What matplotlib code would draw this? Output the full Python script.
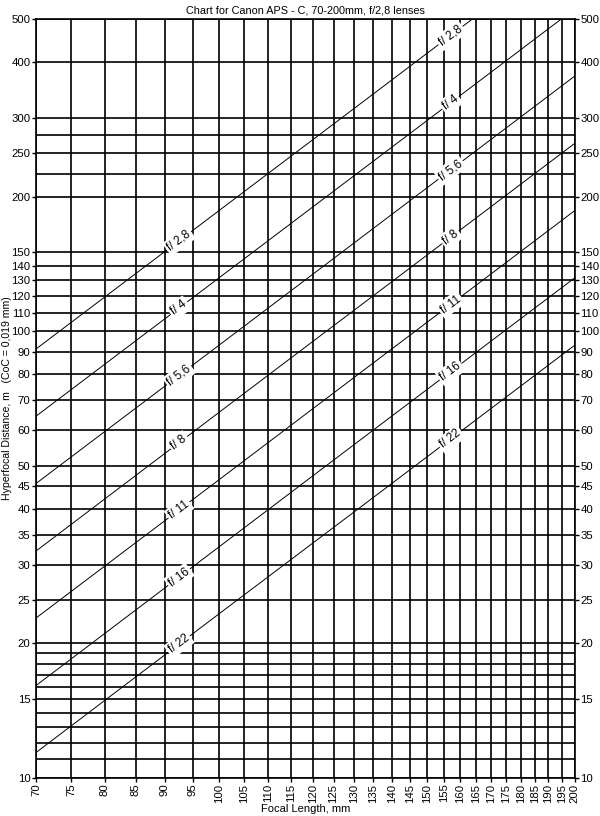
import numpy as np
import matplotlib.pyplot as plt

plt.rcParams['font.family'] = ['Liberation Sans', 'DejaVu Sans']
plt.rcParams['font.size'] = 8.2

# focal lengths (mm) and hyperfocal distances (m)
focal = [70, 100, 135, 200]
apertures = ['2,8', '4', '5,6', '8', '11', '16', '22']
h_28 = [91.2, 186.1, 339.1, 744.3]
h_4 = [64.5, 131.6, 239.8, 526.3]
h_56 = [45.6, 93.0, 169.6, 372.2]
h_8 = [32.2, 65.8, 119.9, 263.2]
h_11 = [22.8, 46.5, 84.8, 186.1]
h_16 = [16.1, 32.9, 60.0, 131.6]
h_22 = [11.4, 23.3, 42.4, 93.0]
hyper = [h_28, h_4, h_56, h_8, h_11, h_16, h_22]

x_ticks = list(range(70, 201, 5))
y_ticks = [10, 15, 20, 25, 30, 35, 40, 45, 50, 60, 70, 80, 90, 100, 110, 120,
           130, 140, 150, 200, 250, 300, 400, 500]
y_minor = [11, 12, 13, 14, 16, 17, 18, 19, 225, 275]
label_pos = [92.5, 157]

fig = plt.figure(figsize=(6, 8.16), dpi=100)
fig.subplots_adjust(left=0.06, right=0.958, bottom=0.0466, top=0.977)
ax = fig.add_subplot(111)
ax.set_xscale('log')
ax.set_yscale('log')
ax.set_xlim(70, 200)
ax.set_ylim(10, 500)

ax.set_xticks(x_ticks)
ax.set_xticklabels([str(x) for x in x_ticks], rotation=90)
ax.set_xticks([], minor=True)
ax.set_yticks(y_ticks)
ax.set_yticklabels([str(y) for y in y_ticks])
ax.set_yticks(y_minor, minor=True)
ax.set_yticklabels([], minor=True)
ax.tick_params(which='both', direction='out', length=3, width=1, pad=1,
               right=True, labelright=True)
ax.tick_params(which='minor', length=0)
ax.grid(True, which='both', color='black', linewidth=1.2)
for s in ax.spines.values():
    s.set_linewidth(1.2)

for vals, ap in zip(hyper, apertures):
    ax.plot(focal, vals, color='black', linewidth=0.7, zorder=3)
    lf = np.log10(focal)
    lv = np.log10(vals)
    p0 = ax.transData.transform((focal[0], vals[0]))
    p1 = ax.transData.transform((focal[-1], vals[-1]))
    ang = np.degrees(np.arctan2(p1[1] - p0[1], p1[0] - p0[0]))
    for fx in label_pos:
        fy = 10 ** np.interp(np.log10(fx), lf, lv)
        ax.text(fx, fy, 'f/ ' + ap, rotation=ang, rotation_mode='anchor',
                ha='center', va='center', fontsize=8.5, zorder=4,
                bbox=dict(facecolor='white', edgecolor='none', pad=1.5))

ax.set_title('Chart for Canon APS - C, 70-200mm, f/2,8 lenses', fontsize=7.8, pad=4)
ax.set_xlabel('Focal Length, mm', fontsize=8)
ax.xaxis.set_label_coords(0.5, -0.034)
ax.set_ylabel('Hyperfocal Distance, m   (CoC = 0,019 mm)', fontsize=7.6)
ax.yaxis.set_label_coords(-0.045, 0.5)

fig.savefig('out.png', dpi=100)
